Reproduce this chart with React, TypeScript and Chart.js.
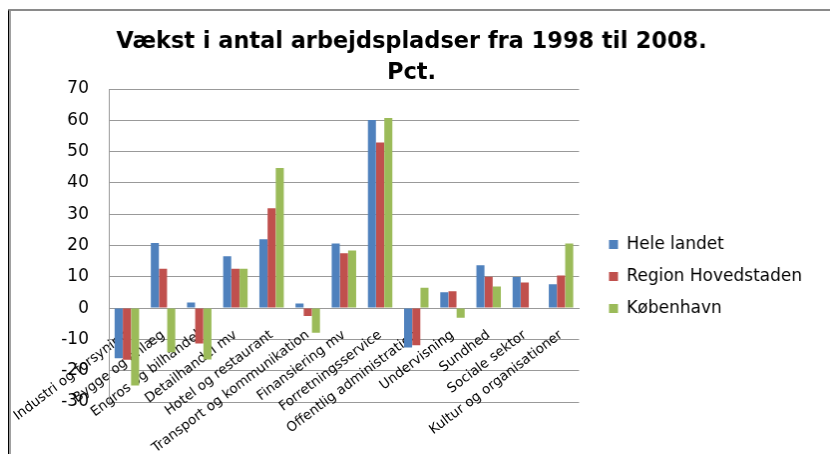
import React, { useEffect, useRef } from "react";
import { Chart, registerables } from "chart.js";

Chart.register(...registerables);

const categories = [
  "Industri og forsyning",
  "Bygge og anlæg",
  "Engros og bilhandel",
  "Detailhandel mv",
  "Hotel og restaurant",
  "Transport og kommunikation",
  "Finansiering mv",
  "Forretningsservice",
  "Offentlig administration",
  "Undervisning",
  "Sundhed",
  "Sociale sektor",
  "Kultur og organisationer",
];

const heleLandet = [-16, 20.8, 1.8, 16.6, 22, 1.5, 20.6, 60.1, -12.6, 5.1, 13.7, 9.9, 7.6];
const regionHovedstaden = [-16.5, 12.6, -11.3, 12.6, 31.9, -2.5, 17.5, 52.9, -11.9, 5.4, 10, 8.2, 10.4];
const koebenhavn = [-24.7, -14.1, -16.4, 12.6, 44.8, -7.9, 18.4, 60.7, 6.5, -3.1, 6.9, 0, 20.6];

const seriesNames = ["Hele landet", "Region Hovedstaden", "København"];
const seriesColors = ["#4F81BD", "#C0504D", "#9BBB59"];

const titleLines = ["Vækst i antal arbejdspladser fra 1998 til 2008.", "Pct."];

const legendFont = { family: "'DejaVu Sans', sans-serif", size: 17, lineHeight: 1 };

export default function App() {
  const ref = useRef<HTMLCanvasElement | null>(null);

  useEffect(() => {
    if (!ref.current) return;
    const values = [heleLandet, regionHovedstaden, koebenhavn];
    const chart = new Chart(ref.current, {
      type: "bar",
      data: {
        labels: categories,
        datasets: values.map((v, i) => ({
          label: seriesNames[i],
          data: v,
          backgroundColor: seriesColors[i],
          borderWidth: 0,
          categoryPercentage: 0.68,
          barPercentage: 0.98,
        })),
      },
      options: {
        responsive: false,
        animation: false,
        layout: { padding: { left: 0, right: 24, top: 0, bottom: 52 } },
        plugins: {
          title: {
            display: true,
            text: titleLines,
            color: "#000",
            font: { family: "'DejaVu Sans', sans-serif", size: 22.5, weight: "bold", lineHeight: 1.4 },
            padding: { top: 15, bottom: 0 },
          },
          legend: {
            position: "right",
            maxWidth: 320,
            title: {
              display: true,
              text: "",
              font: legendFont,
              padding: { top: 123, bottom: 0 },
            },
            labels: {
              color: "#000",
              font: legendFont,
              boxWidth: 9,
              boxHeight: 9,
              padding: 15,
            },
          },
          tooltip: { enabled: false },
        },
        scales: {
          x: {
            position: { y: 0 } as any,
            grid: { display: false, drawTicks: false },
            border: { display: true, color: "#999" },
            ticks: {
              color: "#000",
              font: { family: "'DejaVu Sans', sans-serif", size: 13.5 },
              minRotation: 37,
              maxRotation: 37,
              autoSkip: false,
              padding: 19,
            },
            afterFit: (scale: any) => {
              scale.paddingLeft = 0;
              scale.paddingRight = 0;
            },
          },
          y: {
            min: -30,
            max: 70,
            grid: { color: "#999", drawTicks: false },
            border: { display: true, color: "#999" },
            ticks: {
              stepSize: 10,
              color: "#000",
              font: { family: "'DejaVu Sans', sans-serif", size: 17 },
              padding: 20,
            },
            afterFit: (scale: any) => {
              scale.width = 98;
            },
          },
          gap: {
            type: "linear",
            position: "right",
            display: true,
            grid: { display: false, drawTicks: false },
            border: { display: false },
            ticks: { display: false },
            afterFit: (scale: any) => {
              scale.width = 15;
            },
          },
        },
      },
    });
    return () => chart.destroy();
  }, []);

  return (
    <div
      style={{
        marginLeft: -1,
        marginTop: 1,
        borderLeft: "2px solid #000",
        borderTop: "2px solid #8a8a8a",
        width: 840,
        height: 446,
        background: "#fff",
      }}
    >
      <canvas
        ref={ref}
        width={827}
        height={443}
        style={{ display: "block", borderLeft: "2px solid #a0a0a0" }}
      />
    </div>
  );
}
